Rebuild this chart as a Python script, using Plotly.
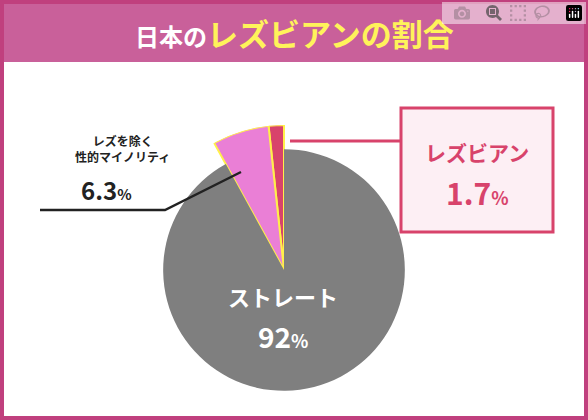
import plotly.graph_objects as go

labels = ["レズビアン", "レズを除く性的マイノリティ", "ストレート"]
values = [1.7, 6.3, 92.0]
colors = ["#d8436b", "#ea7fd6", "#7f7f7f"]
radii = [1.2, 1.2, 1.0]

W, H = 588, 420
def px(x): return x / W
def py(y): return 1 - y / H

thetas, widths = [], []
start = 360.0
for v in values:
    w = v / 100 * 360
    thetas.append(start - w / 2)
    widths.append(w)
    start -= w

fig = go.Figure()
for i in range(3):
    fig.add_trace(go.Barpolar(
        r=[radii[i]], theta=[thetas[i]], width=[widths[i]],
        marker=dict(color=colors[i],
                    line=dict(color="#fff04a" if i < 2 else colors[i], width=2 if i < 2 else 0)),
        hoverinfo="skip", showlegend=False))

def ann(x, y, text, **kw):
    return dict(xref="paper", yref="paper", x=px(x), y=py(y), showarrow=False,
                xanchor="center", yanchor="middle", text=text, **kw)

fig.update_layout(
    width=W, height=H, margin=dict(l=0, r=0, t=0, b=0),
    paper_bgcolor="white", plot_bgcolor="white",
    font=dict(family="Noto Sans CJK JP"),
    polar=dict(domain=dict(x=[px(139), px(429)], y=[py(415), py(125)]),
               bgcolor="rgba(0,0,0,0)", bargap=0,
               angularaxis=dict(rotation=90, direction="clockwise", visible=False),
               radialaxis=dict(range=[0, 1.2], visible=False)),
    shapes=[
        dict(type="rect", xref="paper", yref="paper", x0=px(0), x1=px(588), y0=py(62), y1=py(0),
             fillcolor="#c9609a", line=dict(width=0), layer="below"),
        dict(type="rect", xref="paper", yref="paper", x0=px(2), x1=px(586), y0=py(418), y1=py(2),
             line=dict(color="#c0407e", width=4)),
        dict(type="line", xref="paper", yref="paper", x0=px(290), x1=px(402), y0=py(141), y1=py(141),
             line=dict(color="#d8436b", width=3)),
        dict(type="rect", xref="paper", yref="paper", x0=px(401), x1=px(553), y0=py(232), y1=py(108),
             fillcolor="#fdeff4", line=dict(color="#d8436b", width=3)),
        dict(type="path", xref="paper", yref="paper",
             path=f"M {px(40)} {py(210)} L {px(165)} {py(210)} L {px(241)} {py(172)}",
             line=dict(color="#222222", width=2.5)),
    ],
    annotations=[
        ann(294, 33, "<b><span style='color:white;font-size:24px'>日本の</span><span style='color:#fff35a;font-size:31px'>レズビアンの割合</span></b>"),
        ann(477, 152, "<b>レズビアン</b>", font=dict(size=21, color="#d8436b")),
        ann(477, 192, "<b>1.7<span style='font-size:18px'>%</span></b>", font=dict(size=30, color="#d8436b")),
        ann(122, 148, "<b>レズを除く<br>性的マイノリティ</b>", align="center", font=dict(size=12, color="#222222")),
        ann(106, 190, "<b>6.3<span style='font-size:15px'>%</span></b>", font=dict(size=24, color="#222222")),
        ann(283, 296, "<b>ストレート</b>", font=dict(size=22, color="white")),
        ann(283, 336, "<b>92<span style='font-size:18px'>%</span></b>", font=dict(size=28, color="white")),
    ],
)
fig.write_html("out.html", post_script="document.body.style.margin='0';document.body.style.overflow='hidden';")
